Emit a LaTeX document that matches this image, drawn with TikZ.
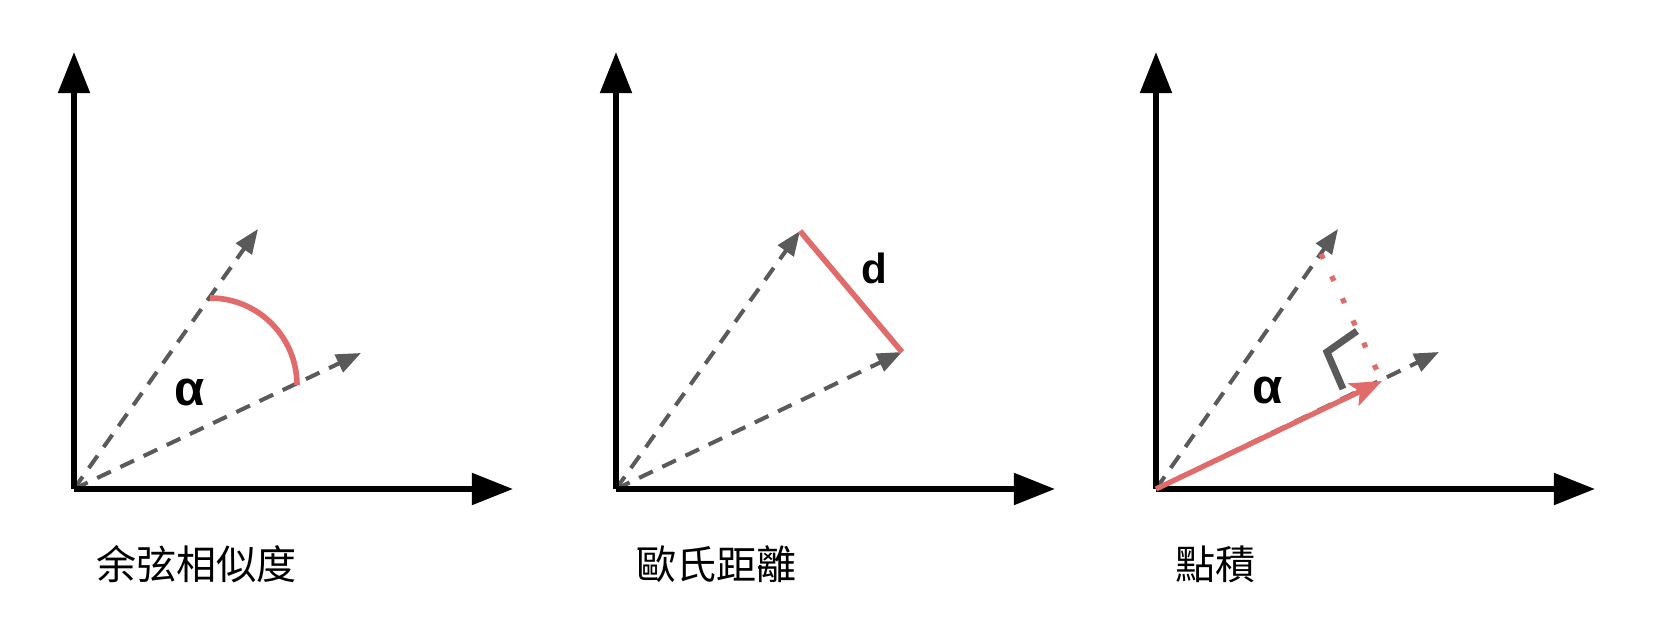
\documentclass[tikz,border=0pt]{standalone}
\usepackage{fontspec}
\usetikzlibrary{arrows.meta}
\newfontfamily\cjkfont{Noto Sans CJK TC}
\newfontfamily\labelfont{Liberation Sans}
\definecolor{vecgray}{RGB}{90,90,90}
\definecolor{simred}{RGB}{225,106,106}

\begin{document}
\begin{tikzpicture}[
    axis/.style={line width=1.6pt, -{Triangle[length=11.7pt, width=8.8pt]}},
    vec/.style={vecgray, line width=1.15pt, dash pattern=on 4.3pt off 3pt, -{Triangle[length=7pt, width=5.4pt]}},
    redline/.style={simred, line width=1.6pt},
    redarrow/.style={simred, line width=1.5pt, -{Stealth[length=9pt, width=7pt, inset=2pt]}},
    reddots/.style={simred, line width=1.5pt, dash pattern=on 1.5pt off 5.5pt},
    rightangle/.style={vecgray, line width=2pt},
    caption/.style={anchor=west, inner sep=0pt, font=\cjkfont\fontsize{11.4pt}{13pt}\selectfont},
    greek/.style={inner sep=0pt, font=\labelfont\bfseries\fontsize{14pt}{16pt}\selectfont},
    letter/.style={inner sep=0pt, font=\labelfont\bfseries\fontsize{12pt}{14pt}\selectfont}]

    \useasboundingbox (0,0) rectangle (16.56,6.24);

    % --- Cosine similarity ---
    \begin{scope}[shift={(0.74,1.35)}]
        \coordinate (O1) at (0,0);
        \coordinate (X1) at (4.39,0);
        \coordinate (Y1) at (0,4.37);
        \coordinate (U1) at (1.84,2.60);
        \coordinate (L1) at (2.87,1.36);
        \coordinate (A1) at (1.36,1.91);

        % Vectors and axes
        \draw[vec] (O1) -- (U1);
        \draw[vec] (O1) -- (L1);
        \draw[axis] (O1) -- (Y1);
        \draw[axis] (O1) -- (X1);

        % Angle
        \draw[redline] (A1) arc[start angle=90, end angle=0, radius=0.87];

        \node[greek] (alpha1) at (1.16,0.96) {α};
        \node[caption] (cap1) at (0.22,-0.75) {余弦相似度};
    \end{scope}

    % --- Euclidean distance ---
    \begin{scope}[shift={(6.16,1.35)}]
        \coordinate (O2) at (0,0);
        \coordinate (X2) at (4.39,0);
        \coordinate (Y2) at (0,4.37);
        \coordinate (U2) at (1.84,2.58);
        \coordinate (L2) at (2.86,1.37);

        % Vectors and axes
        \draw[vec] (O2) -- (U2);
        \draw[vec] (O2) -- (L2);
        \draw[axis] (O2) -- (Y2);
        \draw[axis] (O2) -- (X2);

        % Distance
        \draw[redline] (U2) -- (L2);

        \node[letter] (d2) at (2.58,2.21) {d};
        \node[caption] (cap2) at (0.20,-0.75) {歐氏距離};
    \end{scope}

    % --- Dot product ---
    \begin{scope}[shift={(11.56,1.35)}]
        \coordinate (O3) at (0,0);
        \coordinate (X3) at (4.39,0);
        \coordinate (Y3) at (0,4.37);
        \coordinate (U3) at (1.82,2.60);
        \coordinate (L3) at (2.83,1.37);

        % Projection points
        \coordinate (P3) at (1.65,2.35);
        \coordinate (F3) at (2.25,1.10);
        \coordinate (T3) at (2.26,1.08);
        \coordinate (R3a) at (2.01,1.58);
        \coordinate (R3b) at (1.71,1.37);
        \coordinate (R3c) at (1.87,1.00);

        % Vectors and axes
        \draw[vec] (O3) -- (U3);
        \draw[vec] (O3) -- (L3);
        \draw[axis] (O3) -- (Y3);
        \draw[axis] (O3) -- (X3);

        % Projection
        \draw[redarrow] (O3) -- (T3);
        \draw[reddots] (P3) -- (F3);
        \draw[rightangle] (R3a) -- (R3b) -- (R3c);

        \node[greek] (alpha3) at (1.12,0.98) {α};
        \node[caption] (cap3) at (0.19,-0.75) {點積};
    \end{scope}

\end{tikzpicture}
\end{document}
